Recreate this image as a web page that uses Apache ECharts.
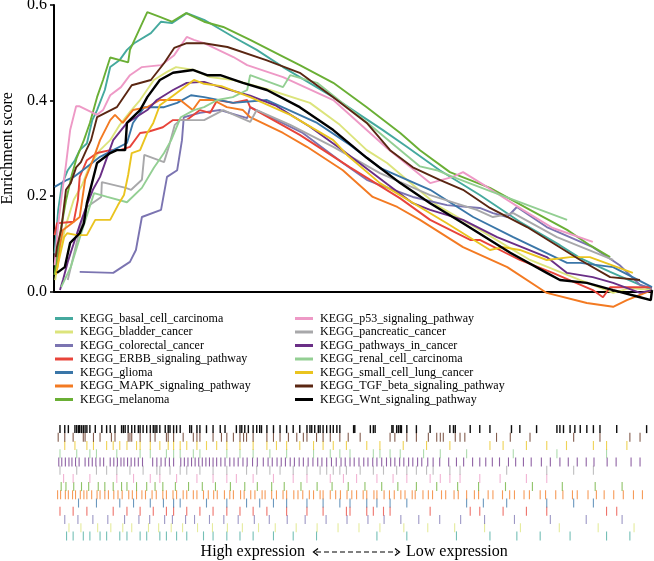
<!DOCTYPE html>
<html><head><meta charset="utf-8">
<script src="https://cdn.jsdelivr.net/npm/echarts@6/dist/echarts.min.js"></script>
<style>html,body{margin:0;padding:0;background:#fff}#c{width:654px;height:561px}</style>
</head><body><div id="c"></div>
<script>
// ---------- names & colours ----------
const setNames = ['KEGG_basal_cell_carcinoma','KEGG_bladder_cancer','KEGG_colorectal_cancer','KEGG_ERBB_signaling_pathway','KEGG_glioma','KEGG_MAPK_signaling_pathway','KEGG_melanoma','KEGG_p53_signaling_pathway','KEGG_pancreatic_cancer','KEGG_pathways_in_cancer','KEGG_renal_cell_carcinoma','KEGG_small_cell_lung_cancer','KEGG_TGF_beta_signaling_pathway','KEGG_Wnt_signaling_pathway'];
const setColors = ['#45A99E','#DCE47C','#7B74B1','#E8443A','#3A76A8','#F37A22','#6AAF35','#EE99C6','#A8A8AA','#6A2E86','#93CF93','#EAC41F','#5A2612','#000000'];
const yTicks = [0, 0.2, 0.4, 0.6];

// ---------- running enrichment scores: [rank %, ES] ----------
const basal = [[0.1,0.08],[0.7,0.17],[1.3,0.223],[2.3,0.254],[3.5,0.275],[4.3,0.296],[5.5,0.31],[6.4,0.359],[7.2,0.38],[8.5,0.422],[9.4,0.47],[11,0.485],[12.2,0.506],[13.4,0.52],[16.2,0.541],[17.9,0.565],[19.7,0.562],[22.2,0.583],[25.1,0.569],[30,0.533],[33.9,0.506],[38.3,0.47],[46.7,0.407],[55,0.338],[59,0.303],[64.5,0.254],[71.2,0.202],[77.9,0.146],[84.6,0.097],[88,0.07],[93,0.041],[98,0.014],[100,0.003]];
const bladder = [[0.2,0.024],[1,0.087],[2,0.139],[3.3,0.192],[4.7,0.223],[6,0.265],[7.7,0.296],[9.4,0.317],[11,0.349],[12.7,0.376],[14.4,0.401],[16.7,0.443],[18.9,0.46],[20.4,0.47],[23.4,0.464],[26.1,0.449],[30,0.443],[36.1,0.422],[42.8,0.395],[47.8,0.349],[52.3,0.296],[55.7,0.269],[64,0.181],[71.2,0.129],[79.6,0.066],[88,0.024],[93.5,-0.003],[96.3,0.007],[100,0.003]];
const colorectal = [[4.3,0.041],[9.9,0.039],[12.7,0.062],[13.7,0.087],[14.7,0.156],[17.9,0.171],[18.9,0.24],[20.6,0.254],[21.4,0.317],[21.7,0.365],[24.4,0.374],[27.8,0.38],[32.3,0.363],[32.8,0.386],[41.6,0.332],[48.3,0.269],[52.3,0.234],[54.5,0.223],[60,0.198],[65.7,0.181],[71.2,0.175],[73.4,0.164],[75.8,0.156],[77.4,0.177],[82.4,0.135],[90.1,0.093],[94.6,0.055],[98,0.014],[100,0.007]];
const erbb = [[0.1,0.118],[0.5,0.143],[3.3,0.146],[4,0.192],[4.3,0.24],[5.5,0.275],[7.2,0.29],[9.4,0.296],[11,0.296],[12.7,0.303],[14.4,0.332],[15.6,0.334],[18.2,0.344],[19.9,0.359],[22.2,0.359],[24.4,0.38],[26.1,0.374],[27.3,0.401],[29.9,0.395],[32.3,0.401],[32.8,0.386],[41.1,0.328],[49.5,0.26],[57.9,0.195],[62.9,0.15],[69.6,0.108],[71.2,0.108],[77.9,0.066],[83.4,0.039],[90.1,0.003],[91.8,-0.012],[93,0.009],[100,0.009]];
const glioma = [[0.1,0.219],[1.2,0.227],[2.2,0.234],[3.3,0.24],[4.8,0.254],[7.7,0.282],[9.9,0.296],[12.2,0.311],[13.2,0.353],[15.1,0.386],[18.4,0.386],[20.6,0.395],[22.9,0.411],[25.1,0.407],[30,0.395],[35.6,0.401],[44,0.353],[49.5,0.307],[54.5,0.259],[62.9,0.213],[70.1,0.156],[76.8,0.114],[85.8,0.06],[88,0.06],[93.5,0.051],[100,0.009]];
const mapk = [[0.5,0.045],[1,0.098],[1.5,0.129],[3,0.143],[4.3,0.156],[5.2,0.234],[6.5,0.275],[7.7,0.317],[9.4,0.359],[10.2,0.37],[11.5,0.353],[13.2,0.38],[15.6,0.386],[17.7,0.401],[21.1,0.401],[23.2,0.38],[24.4,0.401],[26.6,0.401],[28.9,0.386],[31.6,0.38],[32.8,0.365],[38.3,0.332],[42.3,0.303],[48.3,0.254],[53.3,0.198],[57.4,0.177],[61.2,0.15],[68.4,0.093],[75.8,0.051],[82.4,-0.003],[89.1,-0.024],[93.5,-0.032],[95.8,-0.018],[100,0.003]];
const melanoma = [[0.1,0.035],[1,0.12],[2,0.19],[3,0.245],[3.8,0.28],[5,0.317],[6,0.353],[7.2,0.407],[8.2,0.443],[9.4,0.49],[12.4,0.48],[12.7,0.506],[15.6,0.585],[17.7,0.575],[19.7,0.565],[22.1,0.583],[25.1,0.565],[28.3,0.554],[32.8,0.527],[37.8,0.495],[41.1,0.474],[46.7,0.437],[52.3,0.386],[57.9,0.332],[61.2,0.296],[66.2,0.25],[72.9,0.217],[79.6,0.171],[85.8,0.129],[89.6,0.097],[93,0.072]];
const p53 = [[0.1,0.055],[0.7,0.14],[1.3,0.202],[2,0.265],[2.7,0.338],[3.7,0.388],[4.2,0.388],[7.2,0.37],[8.2,0.38],[9.4,0.411],[11.2,0.428],[12.7,0.453],[14.7,0.47],[17.9,0.474],[20.1,0.495],[22.2,0.533],[23.4,0.527],[25.1,0.52],[30,0.491],[32.3,0.474],[38.3,0.449],[46.7,0.401],[55.7,0.3],[62.9,0.227],[66.7,0.24],[68.4,0.25],[72.4,0.219],[78.4,0.171],[83.4,0.133],[90.1,0.104]];
const pancreatic = [[2.3,0.024],[3.5,0.087],[4.3,0.129],[5.5,0.177],[7.9,0.198],[8,0.229],[12,0.217],[12.9,0.213],[14.7,0.234],[15.1,0.286],[18.4,0.271],[19.2,0.303],[20.2,0.349],[21.1,0.359],[25.1,0.359],[28.3,0.38],[32.8,0.355],[33.9,0.38],[39.5,0.349],[46.7,0.303],[54.5,0.248],[62.9,0.202],[70.7,0.171],[73.4,0.156],[76.8,0.164],[84.1,0.114],[93.5,0.066]];
const pathways = [[1,0.003],[1.5,0.024],[2.3,0.062],[3.2,0.097],[4.3,0.139],[5.5,0.181],[6.5,0.213],[7.7,0.24],[9.9,0.317],[12.2,0.353],[15.6,0.38],[17.2,0.401],[19.9,0.422],[22.2,0.437],[25.1,0.439],[27.8,0.428],[32.8,0.41],[37,0.39],[42.8,0.345],[47.8,0.3],[55.7,0.225],[60,0.185],[62.9,0.171],[68.4,0.15],[74.1,0.114],[82.4,0.072],[85.8,0.039],[90.1,0.03],[93.5,0.018],[98,-0.003],[100,0.003]];
const renal = [[1.2,0.009],[2.8,0.051],[4.5,0.12],[6.7,0.206],[8.9,0.198],[12.2,0.187],[14.7,0.217],[16.7,0.259],[18.4,0.29],[19.6,0.317],[21.2,0.365],[23.4,0.38],[25.1,0.386],[27.3,0.401],[29.9,0.407],[32.3,0.422],[32.8,0.453],[38.3,0.428],[39.5,0.453],[44,0.437],[52.8,0.349],[61.2,0.262],[64,0.254],[66.7,0.24],[72.4,0.213],[85.8,0.15]];
const smallcell = [[0.3,0.035],[1,0.076],[1.7,0.114],[2.2,0.122],[3.8,0.118],[5.5,0.118],[6.9,0.15],[9.4,0.15],[10.7,0.181],[11.7,0.202],[12.4,0.244],[13,0.29],[14.4,0.296],[15.6,0.332],[16.6,0.353],[17.7,0.39],[19.9,0.41],[23.4,0.443],[25.1,0.435],[28,0.43],[32.8,0.407],[39.5,0.37],[46.7,0.317],[49,0.286],[54.5,0.227],[65.7,0.143],[72.9,0.087],[75.1,0.093],[77.9,0.087],[82.4,0.066],[86.3,0.072],[89.6,0.072],[96.8,0.039]];
const tgf = [[0.3,0.072],[0.5,0.093],[1.2,0.129],[2,0.213],[2.8,0.227],[3.7,0.26],[4.5,0.271],[5.4,0.296],[6.2,0.317],[7.2,0.365],[10.5,0.386],[13,0.432],[16.2,0.443],[18.4,0.478],[20.1,0.51],[22.2,0.52],[25.1,0.52],[29,0.512],[35.6,0.484],[41.1,0.458],[46.7,0.407],[52.3,0.353],[56.2,0.296],[60,0.26],[64.5,0.234],[68.4,0.213],[72.9,0.175],[79.1,0.135],[88,0.066],[93,0.03],[98,0.024]];
const wnt = [[0.5,0.039],[1.8,0.051],[2.7,0.102],[4.3,0.122],[5,0.143],[5.5,0.185],[7.2,0.269],[9.4,0.29],[10.5,0.296],[11.9,0.296],[12.2,0.353],[14.4,0.38],[15.6,0.407],[17.7,0.443],[19.9,0.458],[23.2,0.464],[25.6,0.453],[27.8,0.453],[31.6,0.437],[35.6,0.422],[41.1,0.386],[46.7,0.338],[52.3,0.28],[57.9,0.227],[62.9,0.185],[68.4,0.143],[76.3,0.081],[82.4,0.039],[84.6,0.024],[89.1,0.018],[93.5,0.003],[98,-0.012],[99.8,-0.018],[100,0.003]];
const curves = [basal,bladder,colorectal,erbb,glioma,mapk,melanoma,p53,pancreatic,pathways,renal,smallcell,tgf,wnt];

// ---------- gene hit positions (rank %) ----------
const hitsBasal = [2.1,3.2,4.9,6.0,7.7,8.8,11.0,12.2,14.4,15.5,17.7,18.8,20.5,22.2,25.0,26.6,28.9,31.1,33.3,36.7,40.0,43.9,54.0,59.0,67.3,72.9,77.4,81.3,86.3,92.4,96.3];
const hitsBladder = [2.5,4.5,7.3,9.5,11.5,13.0,15.8,17.5,19.6,21.5,24.0,26.5,29.0,31.5,34.2,37.0,40.5,44.0,47.5,51.0,54.5,58.5,62.5,67.0,72.0,78.0,84.5,91.0,97.0];
const hitsColorectal = [1.8,4.0,6.5,9.0,11.8,14.2,16.0,18.5,19.8,22.0,23.5,26.0,28.4,30.8,33.5,36.0,39.0,42.0,45.5,49.0,52.5,55.2,58.0,61.0,64.5,68.0,72.0,77.0,83.0,89.0,95.0];
const hitsErbb = [1.0,3.2,5.5,9.9,12.2,14.4,16.6,18.8,20.0,22.2,24.4,26.6,28.9,31.1,33.3,35.6,38.9,42.3,45.0,48.9,49.5,52.3,53.4,55.1,56.2,62.9,69.6,71.2,75.1,79.0,82.4,92.4,94.1];
const hitsGlioma = [4.1,7.1,11.0,13.3,16.1,18.3,20.0,21.1,25.5,28.9,32.2,34.4,36.7,38.9,42.3,45.0,47.8,49.5,52.3,54.0,56.2,59.0,69.0,71.8,75.7,82.4,86.9,90.2];
const hitsMapk = [0.6,1.1,1.9,2.4,3.1,3.6,4.4,5.0,5.5,6.3,7.2,7.7,8.5,9.1,10.0,10.7,11.4,12.5,13.1,13.8,14.7,15.3,16.4,17.1,18.2,18.8,19.9,20.5,21.6,22.2,23.3,23.9,25.0,25.8,26.7,27.3,28.5,29.4,30.0,31.2,31.8,32.9,33.6,34.8,35.3,36.4,37.2,38.3,38.9,40.1,40.8,41.6,42.7,43.4,44.5,45.0,46.2,47.1,47.9,49.0,49.8,50.6,51.7,52.3,53.5,54.0,55.2,56.1,56.9,58.0,58.7,59.9,60.4,61.7,62.6,63.3,64.8,65.5,66.9,67.6,69.0,70.3,71.0,72.6,73.4,75.0,76.2,77.0,78.6,79.5,81.3,82.2,83.9,85.1,86.7,87.5,89.3,90.7,92.0,93.6,95.2,96.9,98.4];
const hitsMelanoma = [1.2,2.0,3.3,4.6,5.8,7.4,8.5,9.9,11.3,12.2,13.8,15.5,16.9,18.2,20.3,22.5,24.8,27.0,29.5,31.9,34.0,36.4,38.5,41.3,44.0,46.5,49.2,52.0,54.8,57.5,60.6,64.0,67.5,71.0,75.5,80.0,85.0,90.5,95.0];
const hitsP53 = [1.6,3.2,6.0,10.5,13.3,16.1,17.7,20.5,23.9,26.6,28.9,30.5,33.3,36.7,40.0,42.3,46.2,48.4,50.6,54.0,56.7,59.0,62.9,64.6,66.2,67.9,71.2,74.6,79.0,82.4];
const hitsPancreatic = [1.0,3.8,7.1,8.8,10.5,12.7,14.9,17.2,17.7,19.4,21.1,22.2,24.4,26.6,28.9,32.2,33.9,36.1,37.8,40.0,42.3,44.5,45.6,46.7,47.8,48.9,51.2,53.4,55.1,57.3,59.0,60.6,62.3,63.4,66.2,67.9,75.7,82.4,86.9,90.2];
const hitsPathways = [0.8,1.3,1.9,2.5,3.0,3.6,4.2,5.2,5.8,6.4,7.0,7.7,8.3,9.4,10.0,10.6,11.2,11.7,12.3,12.9,13.5,14.1,14.8,16.5,17.2,17.9,18.6,19.3,20.0,21.2,21.8,22.4,23.0,23.6,24.2,24.8,25.4,26.0,26.6,27.2,27.9,28.6,29.4,30.1,30.8,31.6,32.3,33.2,34.0,35.0,35.8,36.5,37.3,38.0,38.7,39.5,40.2,41.0,41.7,42.5,43.3,44.1,44.8,45.6,46.4,47.2,48.0,48.7,49.5,50.2,51.0,51.8,52.5,53.3,54.0,54.8,55.6,56.3,57.0,57.8,58.5,59.3,60.0,60.8,61.5,62.5,63.4,64.5,66.0,67.3,68.5,70.0,71.2,72.2,73.3,74.5,76.0,77.2,78.5,79.8,81.5,83.0,84.6,86.0,87.5,89.0,90.3,92.5,94.0,96.5,98.0];
const hitsRenal = [1.0,3.8,6.0,7.1,10.5,14.4,16.1,18.8,20.0,21.1,23.3,24.4,28.9,31.1,33.3,36.1,38.9,43.4,46.2,47.8,49.5,53.4,54.5,56.2,57.9,61.8,64.6,69.0,76.8,84.1,92.4];
const hitsSmallcell = [1.8,3.5,5.5,6.6,8.8,9.9,11.0,12.2,13.8,14.4,16.1,17.7,19.1,20.0,21.1,22.2,23.9,25.5,27.2,28.9,31.1,33.3,35.6,37.2,38.9,41.1,43.4,45.0,46.7,48.9,52.3,54.5,58.4,62.3,66.2,72.9,75.1,79.0,82.4,85.7,90.2,92.4,95.8];
const hitsTgf = [0.7,1.8,3.2,4.9,5.2,6.6,7.7,9.6,10.2,12.4,12.7,13.0,14.4,16.1,16.9,18.8,19.1,20.0,21.6,23.3,23.9,24.4,26.6,28.0,28.9,30.0,31.1,31.7,32.2,33.3,35.6,36.7,37.8,39.2,40.6,41.7,42.3,43.9,45.0,46.2,47.8,49.2,51.2,56.2,57.0,59.0,60.6,62.6,64.0,64.6,65.1,67.1,67.9,68.7,74.0,76.3,79.6,86.9,91.3,96.3,98.0];
const hitsWnt = [1.0,1.8,2.4,3.5,3.8,4.1,4.3,4.6,4.9,5.2,5.5,6.0,6.9,8.0,8.8,9.4,10.2,11.3,11.6,11.9,12.4,13.0,13.5,14.1,14.4,14.9,15.5,16.1,16.6,16.9,17.2,17.7,18.6,19.1,19.4,20.0,20.5,21.1,22.7,23.0,23.9,24.4,25.5,26.6,27.8,28.6,30.5,31.1,31.4,31.9,32.5,33.3,33.9,34.4,34.7,35.6,36.7,37.8,38.9,40.0,41.1,42.3,42.8,43.1,43.6,44.2,44.5,45.0,45.6,46.2,46.7,47.3,47.8,50.1,50.3,52.9,53.4,53.7,56.5,56.7,57.3,57.6,57.9,58.1,59.0,60.6,62.9,66.2,66.8,67.1,69.6,71.2,72.9,76.5,77.9,80.7,84.1,84.6,85.2,86.3,87.1,88.0,89.1,90.2,91.3,94.1,99.1];
const hits = [hitsBasal,hitsBladder,hitsColorectal,hitsErbb,hitsGlioma,hitsMapk,hitsMelanoma,hitsP53,hitsPancreatic,hitsPathways,hitsRenal,hitsSmallcell,hitsTgf,hitsWnt];
// barcode row order, top to bottom
const rowOrder = [13,12,11,10,9,8,7,6,5,4,3,2,1,0];

// ---------- build ----------
const FONT = 'Liberation Serif';
const series = [];
setNames.forEach((n, i) => {
  series.push({
    name: n, type: 'line', data: curves[i], showSymbol: false, clip: false,
    xAxisIndex: 0, yAxisIndex: 0, color: setColors[i],
    lineStyle: { width: i === 13 ? 2.4 : 1.9, color: setColors[i] },
    emphasis: { disabled: true }, z: i === 13 ? 5 : 3
  });
});
const rowNames = rowOrder.map(i => setNames[i]);
setNames.forEach((n, i) => {
  series.push({
    type: 'scatter', xAxisIndex: 1, yAxisIndex: 1, silent: true,
    symbol: 'rect', symbolSize: i === 13 ? [1.4, 8] : [1.1, 9],
    itemStyle: { color: setColors[i], opacity: i === 13 ? 0.95 : 0.75 },
    data: hits[i].map(p => [p, n])
  });
});

const chart = echarts.init(document.getElementById('c'), null, { renderer: 'canvas' });
const legendCommon = {
  orient: 'vertical', icon: 'rect', itemWidth: 18, itemHeight: 3, itemGap: 0.5, padding: 0,
  selectedMode: false,
  textStyle: { fontFamily: FONT, fontSize: 12, color: '#000', lineHeight: 13, padding: [0, 0, 0, 2] }
};
chart.setOption({
  animation: false,
  backgroundColor: '#fff',
  grid: [
    { left: 54, right: 2, top: 5, bottom: 269.5, containLabel: false, outerBoundsMode: 'none' },
    { left: 54, right: 2, top: 425, height: 115, containLabel: false, outerBoundsMode: 'none' }
  ],
  xAxis: [
    { type: 'value', gridIndex: 0, min: 0, max: 100, axisLine: { lineStyle: { color: '#000', width: 2 } },
      axisTick: { show: false }, axisLabel: { show: false }, splitLine: { show: false } },
    { type: 'value', gridIndex: 1, min: 0, max: 100, axisLine: { lineStyle: { color: '#000', width: 2 } },
      axisTick: { show: false }, axisLabel: { show: false }, splitLine: { show: false } }
  ],
  yAxis: [
    { type: 'value', gridIndex: 0, min: yTicks[0], max: yTicks[yTicks.length - 1], interval: 0.2,
      name: 'Enrichment score', nameLocation: 'middle', nameGap: 33,
      nameTextStyle: { fontFamily: FONT, fontSize: 16, color: '#000' },
      axisLine: { show: true, lineStyle: { color: '#000', width: 2 } },
      axisTick: { show: true, length: 4, lineStyle: { color: '#000', width: 1.5 } }, splitLine: { show: false },
      axisLabel: { fontFamily: FONT, fontSize: 16, color: '#000', margin: 7, formatter: v => v.toFixed(1) } },
    { type: 'category', gridIndex: 1, data: rowNames, inverse: true, show: false }
  ],
  legend: [
    Object.assign({ left: 55, top: 312, data: setNames.slice(0, 7) }, legendCommon),
    Object.assign({ left: 295, top: 312, data: setNames.slice(7) }, legendCommon)
  ],
  graphic: [
    { type: 'text', x: 305, y: 552, style: { text: 'High expression', fontFamily: FONT, fontSize: 16, fill: '#000', align: 'right', verticalAlign: 'middle' } },
    { type: 'text', x: 406, y: 552, style: { text: 'Low expression', fontFamily: FONT, fontSize: 16, fill: '#000', align: 'left', verticalAlign: 'middle' } },
    { type: 'polyline', shape: { points: [[318, 548.5], [313.5, 552], [318, 555.5]] }, style: { stroke: '#000', lineWidth: 1.3, fill: null } },
    { type: 'line', shape: { x1: 316, y1: 552, x2: 397, y2: 552 }, style: { stroke: '#000', lineWidth: 1.2, lineDash: [5, 3] } },
    { type: 'polyline', shape: { points: [[395, 548.5], [399.5, 552], [395, 555.5]] }, style: { stroke: '#000', lineWidth: 1.3, fill: null } }
  ],
  series: series
});
</script>
</body></html>
